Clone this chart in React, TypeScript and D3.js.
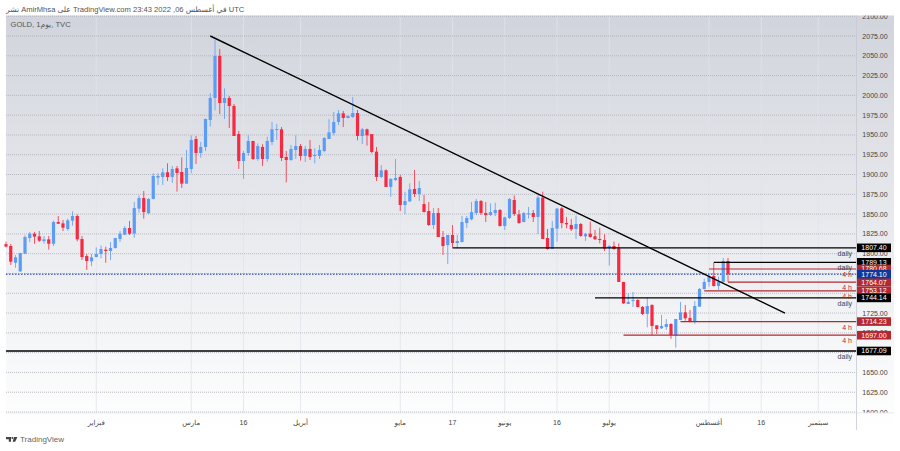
import * as d3 from "d3";

// daily GOLD candles
const opens = [1812,1809.7,1788.6,1777.7,1800,1819.8,1825.3,1821.9,1816,1818.1,1812.6,1840,1838.3,1831.2,1841.7,1847.6,1818.5,1797,1790.3,1795.8,1799.6,1805,1803.4,1807.2,1818.5,1824,1832.4,1825.3,1856.9,1870.3,1851,1869.1,1896.1,1896.9,1902.8,1896.9,1907.8,1903.2,1888.5,1907,1944.9,1927.2,1934.8,1968.9,1996.7,2049.8,1990.4,1996.7,1986.6,1951.2,1917.1,1927.2,1942.4,1919.6,1934.8,1919.6,1941.1,1956.3,1957.1,1922.2,1918.4,1931,1936,1923.4,1932.3,1923.4,1923.4,1929.7,1944.9,1952.5,1966.4,1977.3,1971.4,1972.7,1977.7,1948.7,1957.1,1951.2,1928.9,1896.9,1905.3,1884.3,1893.1,1896.9,1861.5,1866.1,1881.7,1875.4,1862.7,1853.9,1836.2,1851.4,1821.1,1810.9,1823.6,1813.5,1814.7,1838.7,1843.4,1851.4,1866.5,1851.4,1848.8,1851.4,1855.2,1834.9,1845.1,1867.8,1849.7,1840,1849.7,1851.4,1846.4,1870.8,1819.8,1806,1831.6,1857.3,1838.8,1836.3,1831.2,1837.5,1822,1825.3,1822,1818.6,1817.3,1806.8,1809.7,1806.8,1764.3,1736.5,1740.3,1741.5,1732.7,1723.9,1735.2,1709.5,1705.7,1707.4,1711.2,1696.9,1716.3,1725.9,1718.8,1713.7,1733.1,1755.4,1764.3,1771.9,1759.2,1764.3,1790.8];
const highs = [1815.2,1812.2,1798.3,1801,1823.2,1827.4,1827.4,1828.6,1822.3,1822.3,1841.7,1847.6,1842.5,1844.2,1853.5,1849.7,1822.3,1799.6,1799.6,1808,1810.5,1808.8,1814.7,1820,1828.6,1834.9,1841.3,1865.3,1873.7,1879.2,1870.3,1901.5,1901.5,1907.8,1914.2,1910.8,1910.8,1921.7,1931,1949.5,1948.7,1941.1,1970.5,2002.6,2070,2058.6,2008.9,1999.2,1989.1,1955,1929.7,1949.5,1942.4,1939.4,1938.2,1947.8,1966.4,1963.8,1960,1929.7,1937.3,1949.5,1938.6,1936,1943.6,1933.1,1937.3,1947.4,1969.8,1979,1981.5,1980.3,1974.8,1998,1981.5,1958.8,1958,1951.2,1934.8,1912,1906.6,1895.6,1919.6,1899.4,1878.3,1888.9,1905.7,1891.8,1874.1,1865.3,1857.7,1857.7,1828.6,1823.6,1836.2,1823.6,1847.6,1847.6,1865.3,1869.1,1867.8,1865.3,1863.6,1864.4,1856.4,1846.7,1870.3,1873.7,1855.2,1852.6,1859,1855.2,1874.2,1878.4,1831.2,1841.3,1857.7,1859,1846.4,1843.8,1848,1838.8,1826.2,1840.5,1830,1832.9,1824.5,1811,1815.2,1813.1,1764.3,1750,1751.6,1742.4,1733.9,1744.9,1736.1,1709.5,1722.6,1717.5,1712.1,1717.5,1739,1735.2,1728.9,1740.3,1756.7,1768.5,1774.4,1788.3,1771,1794.6,1794.6];
const lows = [1808,1785.7,1782.3,1776.8,1799.6,1814.7,1812.6,1814.7,1812.6,1805.1,1809.7,1837.5,1828.6,1829.1,1835.4,1815.6,1792,1779.4,1784.4,1795.4,1794.1,1788.6,1792,1806.3,1814.7,1823.6,1823.6,1820.2,1851.8,1844.2,1850.1,1868.7,1886.8,1886.8,1891.8,1889.7,1878.4,1883,1888.5,1901.5,1913.3,1921.3,1929.7,1960.5,1981.1,1976.5,1970.2,1958.8,1948.7,1907,1894.4,1923.4,1918.4,1917.5,1910.8,1916.3,1937.3,1943.6,1917.1,1890.2,1917.1,1919.6,1917.5,1915.8,1918.4,1914.2,1919.6,1928.1,1944.9,1949.5,1962.6,1960,1971,1971.4,1943.2,1938.6,1936.5,1926.8,1891.8,1895.6,1884.3,1872,1891.8,1853.9,1850.1,1865.3,1871.6,1866.5,1852.2,1835,1831.2,1821.1,1798.3,1786.9,1808,1806.7,1814.3,1832.4,1842.1,1848.8,1848.8,1840,1847.6,1847.6,1834.5,1829.9,1843.8,1847.6,1837.9,1839.6,1844.3,1840.1,1824.9,1818.6,1805.1,1806,1815.2,1832.1,1832.1,1828.7,1818.6,1821.5,1816.1,1820.3,1817.3,1813.1,1803.4,1784.9,1804.7,1764.3,1736.5,1736.5,1732.7,1732.3,1722.6,1707,1696.9,1698.6,1704.9,1703.6,1692.3,1681.3,1715.9,1715.4,1713.3,1711.2,1732.7,1754.6,1758.4,1758.4,1754.2,1763.4,1764.3];
const closes = [1809,1789.9,1795.4,1800.8,1821.1,1825.3,1821.5,1816.4,1818.1,1812.6,1840,1837.9,1832.8,1842.1,1847.6,1818.1,1795.8,1790.7,1795.4,1799.6,1805.9,1803.4,1807.2,1819.8,1825.3,1832.4,1825.3,1857.7,1870.3,1852.6,1869.1,1898.2,1898.2,1902.8,1896.9,1907,1901.9,1888.5,1908.3,1943.6,1927.2,1934.8,1970.2,1996.7,2049.8,1990.4,1996.7,1986.6,1948.7,1917.1,1927.2,1942.4,1919.6,1936,1919.6,1942.4,1957.1,1957.5,1920.9,1918.4,1932.3,1936,1923.4,1932.3,1922.2,1924.7,1931,1946.2,1953.3,1966.4,1977.3,1971.4,1974,1977.7,1948.7,1957.1,1949.5,1928.5,1896.9,1905.3,1884.3,1894.4,1895.6,1861.5,1866.5,1881.3,1875.4,1883,1852.6,1836.2,1851.4,1821.1,1809.7,1823.6,1813.5,1816,1840,1845.1,1852.6,1866.5,1851.4,1848.8,1852.6,1855.2,1834.9,1845.9,1869.1,1850.1,1838.7,1851.4,1851,1846.4,1870.8,1818.6,1806,1832.5,1856.9,1838.8,1837.1,1830.8,1837.5,1822.4,1824.9,1821.1,1818.2,1817.3,1806.4,1809.7,1806,1764.3,1737.3,1739,1741.5,1732.7,1723.9,1733.9,1708.7,1704.9,1708.7,1711.2,1697.3,1717.5,1725.9,1718.4,1714.2,1733.9,1755.4,1764.3,1770.6,1759.2,1764.3,1790.8,1774.1];

const priceTicks = d3.range(1600, 2101, 25);
const timeTickIdx = [19, 39, 50, 62, 83, 94, 105, 116, 127, 148, 159, 171];
const timeTickLabels = ["فبراير", "مارس", "16", "أبريل", "مايو", "17", "يونيو", "16", "يوليو", "أغسطس", "16", "سبتمبر"];

// [price, first candle index, tag]
const levelPrices = [1807.4, 1789.13, 1780.68, 1764.07, 1753.12, 1744.14, 1714.23, 1697.0, 1677.09];
const levelStarts = [94, 149, 148, 152, 147, 124, 142, 130, -0.01];
const levelTags = ["daily", "daily", "4 h", "4 h", "4 h", "daily", "4 h", "4 h", "daily"];
const lastPrice = 1774.1;
const trendIdx = [43, 164];
const trendPrices = [2075, 1725];

const UP = "#5b9cf6";
const DOWN = "#f7283f";
const LEVEL_RED = "#b22833";
const FONT = "'Liberation Sans','DejaVu Sans',sans-serif";

const left = 6;
const axisX = 856.5;
const right = 894;
const top = 15.5;
const plotBottom = 412.5;
const bottom = 430;

const x = d3.scaleLinear().domain([0, 153]).range([6, 732.75]);
const y = d3.scaleLinear().domain([1600, 2075]).range([412, 36]);
const trendLine = d3.line<number>().x((d) => x(d)).y((_, i) => y(trendPrices[i]));

export default function App() {
  const fmt = d3.format(".2f");
  return (
    <svg
      width={900}
      height={451}
      style={{ position: "absolute", left: 0, top: 0, display: "block", background: "#fff" }}
      fontFamily={FONT}
    >
      <defs>
        <linearGradient id="bg" x1="0" y1="0" x2="0" y2="1">
          <stop offset="0" stopColor="#d1d4dc" />
          <stop offset="1" stopColor="#ffffff" />
        </linearGradient>
        <clipPath id="axisClip">
          <rect x={axisX} y={top} width={right - axisX} height={plotBottom - top} />
        </clipPath>
      </defs>

      <text x={6} y={11.5} fontSize={7.6} fill="#555" direction="ltr">
        نشر AmirMhsa على TradingView.com 23:43 2022 ,06 في أغسطس UTC
      </text>

      <rect x={left} y={top} width={right - left} height={bottom - top} fill="url(#bg)" />

      {timeTickIdx.map((d) => (
        <line key={d} x1={x(d)} x2={x(d)} y1={top} y2={plotBottom} stroke="#e0e3eb" strokeWidth={0.8} />
      ))}
      {priceTicks.map((p) => (
        <line key={p} x1={left} x2={axisX} y1={y(p)} y2={y(p)} stroke="#a9acb4" strokeWidth={0.8} strokeDasharray="1 1" />
      ))}

      <text x={10.5} y={27} fontSize={7.6} fill="#555" direction="ltr">GOLD, 1يوم, TVC</text>

      <line x1={left} x2={axisX} y1={y(lastPrice)} y2={y(lastPrice)} stroke="#0b2fa0" strokeWidth={1} strokeDasharray="1.5 1.5" />

      {opens.map((o, i) => {
        const c = closes[i];
        const color = c >= o ? UP : DOWN;
        const bodyTop = y(Math.max(o, c));
        const bodyH = Math.max(1, Math.abs(y(o) - y(c)));
        return (
          <g key={i} fill={color} stroke={color}>
            <line x1={x(i)} x2={x(i)} y1={y(highs[i])} y2={y(lows[i])} strokeWidth={0.8} />
            <rect x={x(i) - 1.6} width={3.2} y={bodyTop} height={bodyH} stroke="none" />
          </g>
        );
      })}

      {levelPrices.map((p, i) => {
        const black = levelTags[i] === "daily";
        return (
          <line
            key={p}
            x1={x(levelStarts[i])}
            x2={axisX}
            y1={y(p)}
            y2={y(p)}
            stroke={black ? "#000" : LEVEL_RED}
            strokeWidth={p === 1677.09 ? 1.5 : 1.2}
          />
        );
      })}

      <path d={trendLine(trendIdx) ?? ""} fill="none" stroke="#000" strokeWidth={1.4} />

      {levelPrices.map((p, i) => {
        const black = levelTags[i] === "daily";
        return (
          <text
            key={p}
            x={852}
            y={y(p) + 8}
            textAnchor="end"
            fontSize={7}
            fill={black ? "#444" : LEVEL_RED}
          >
            {levelTags[i]}
          </text>
        );
      })}

      <rect x={left} y={plotBottom} width={right - left} height={0.8} fill="#e0e3eb" />
      <line x1={axisX} x2={axisX} y1={top} y2={bottom} stroke="#c6c9d2" strokeWidth={0.8} />

      <g clipPath="url(#axisClip)">
        {priceTicks.map((p) => (
          <text key={p} x={875} y={y(p) + 2.5} textAnchor="middle" fontSize={7} fill="#444">
            {fmt(p)}
          </text>
        ))}
      </g>

      {timeTickIdx.map((d, i) => (
        <text key={d} x={x(d)} y={424.5} textAnchor="middle" fontSize={7} fill="#444">
          {timeTickLabels[i]}
        </text>
      ))}

      {levelPrices.map((p, i) => {
        const black = levelTags[i] === "daily";
        return (
          <g key={p}>
            <rect x={857} y={y(p) - 4.3} width={34} height={8.6} fill={black ? "#000" : LEVEL_RED} />
            <text x={874} y={y(p) + 2.5} textAnchor="middle" fontSize={7} fill="#fff">{fmt(p)}</text>
          </g>
        );
      })}
      <rect x={857} y={y(lastPrice) - 4.3} width={34} height={8.6} fill="#0d3a9a" />
      <text x={874} y={y(lastPrice) + 2.5} textAnchor="middle" fontSize={7} fill="#fff">{fmt(lastPrice)}</text>

      <g fill="#444">
        <path d="M6 437h5v4.8h-2.2v-2.6H6z" />
        <circle cx={12.4} cy={438} r={1} />
        <path d="M14 437h3.4l-2.2 4.8h-2.6z" />
      </g>
      <text x={20} y={442} fontSize={8} fill="#666">TradingView</text>
    </svg>
  );
}
